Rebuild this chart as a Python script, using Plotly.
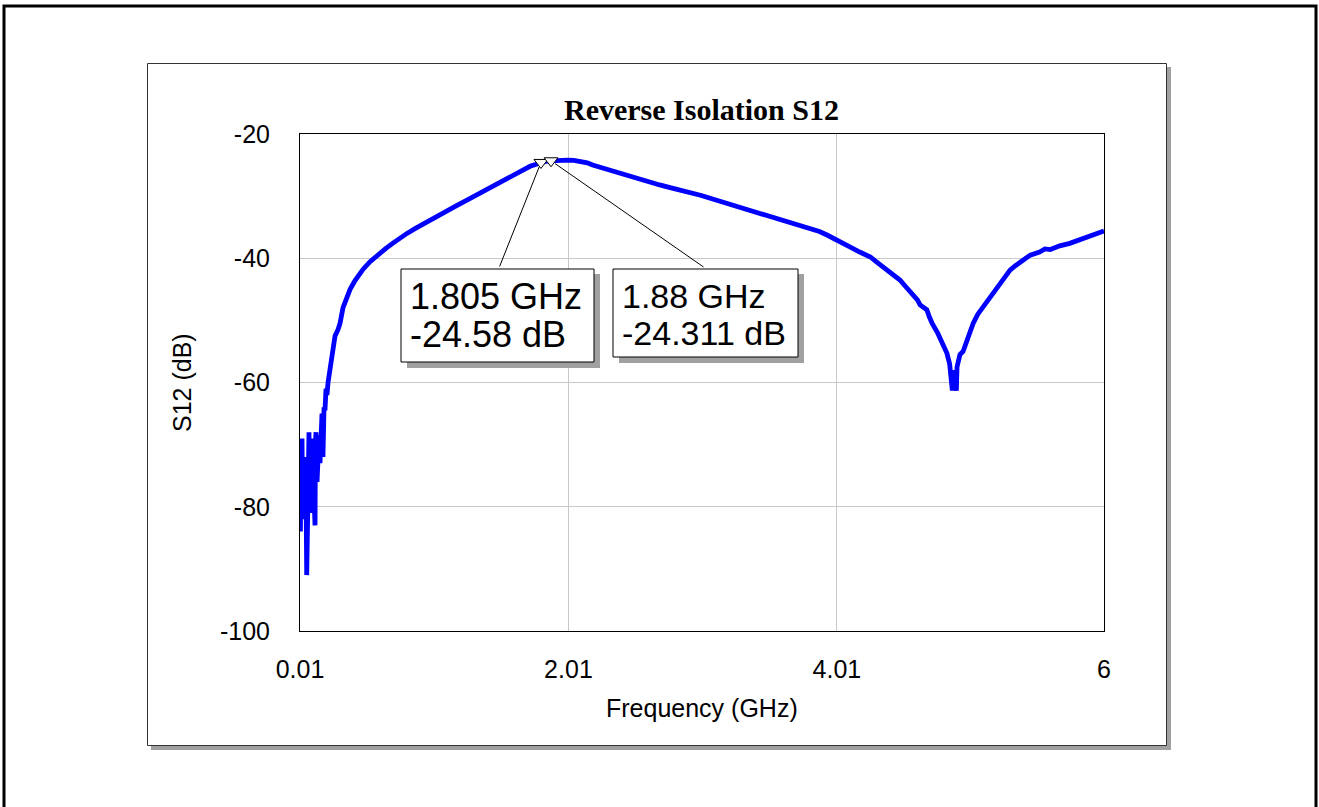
import plotly.graph_objects as go

# ---------------- data ----------------
freq_ghz = [
    0.010, 0.013, 0.017, 0.021, 0.025, 0.029, 0.032, 0.036, 0.040, 0.047,
    0.051, 0.055, 0.060, 0.066, 0.070, 0.077, 0.081, 0.085, 0.092, 0.100,
    0.107, 0.114, 0.122, 0.125, 0.129, 0.137, 0.144, 0.152, 0.159, 0.166,
    0.174, 0.181, 0.189, 0.196, 0.204, 0.211, 0.219, 0.226, 0.234, 0.241,
    0.256, 0.271, 0.293, 0.308, 0.330, 0.353, 0.383, 0.420, 0.450, 0.479,
    0.530, 0.560, 0.606, 0.650, 0.700, 0.750, 0.807, 0.870, 0.926, 1.000,
    1.053, 1.120, 1.180, 1.240, 1.300, 1.360, 1.425, 1.490, 1.550, 1.600,
    1.650, 1.690, 1.724, 1.765, 1.805, 1.840, 1.880, 1.915, 1.947, 1.980,
    2.007, 2.050, 2.100, 2.150, 2.190, 2.250, 2.320, 2.380, 2.445, 2.500,
    2.565, 2.630, 2.690, 2.760, 2.820, 2.880, 2.940, 3.000, 3.060, 3.120,
    3.190, 3.250, 3.310, 3.370, 3.440, 3.500, 3.560, 3.620, 3.680, 3.750,
    3.810, 3.880, 3.940, 4.000, 4.060, 4.110, 4.180, 4.220, 4.260, 4.300,
    4.350, 4.410, 4.480, 4.520, 4.550, 4.580, 4.610, 4.630, 4.680, 4.700,
    4.720, 4.760, 4.790, 4.810, 4.830, 4.850, 4.860, 4.870, 4.875, 4.890,
    4.900, 4.905, 4.920, 4.927, 4.950, 4.980, 5.000, 5.025, 5.060, 5.100,
    5.150, 5.200, 5.250, 5.300, 5.340, 5.380, 5.450, 5.520, 5.560, 5.600,
    5.670, 5.745, 5.820, 5.900, 6.000,
]
s12_db = [
    -70.0, -84.0, -72.0, -79.0, -69.0, -80.0, -73.0, -76.0, -72.0, -82.0,
    -75.0, -78.0, -91.0, -74.0, -77.0, -68.0, -78.0, -70.0, -81.0, -69.0,
    -74.0, -82.0, -83.0, -70.0, -68.0, -76.0, -72.0, -68.5, -73.0, -69.0,
    -65.0, -72.0, -64.0, -64.5, -61.0, -62.0, -60.0, -59.0, -57.0, -56.0,
    -54.3, -52.5, -51.5, -50.5, -48.0, -46.5, -45.0, -43.6, -42.6, -41.8,
    -40.6, -40.0, -39.2, -38.4, -37.6, -36.8, -36.0, -35.2, -34.5, -33.6,
    -33.0, -32.2, -31.5, -30.8, -30.1, -29.4, -28.6, -27.8, -27.1, -26.5,
    -26.0, -25.6, -25.2, -24.9, -24.58, -24.42, -24.31, -24.24, -24.2, -24.18,
    -24.2, -24.25, -24.4, -24.65, -25.0, -25.4, -25.8, -26.2, -26.6, -27.0,
    -27.4, -27.8, -28.2, -28.6, -28.9, -29.2, -29.5, -29.9, -30.3, -30.7,
    -31.1, -31.5, -31.9, -32.3, -32.7, -33.1, -33.5, -33.9, -34.3, -34.7,
    -35.2, -35.7, -36.3, -36.9, -37.5, -38.2, -39.0, -39.3, -39.8, -40.5,
    -41.4, -42.3, -43.5, -44.5, -45.3, -45.8, -46.7, -47.5, -48.3, -49.5,
    -50.5, -52.0, -53.5, -54.2, -55.3, -57.0, -60.5, -61.3, -58.0, -60.5,
    -61.3, -57.5, -56.5, -55.5, -55.0, -53.2, -51.5, -50.5, -49.0, -47.8,
    -46.2, -44.6, -43.2, -41.9, -41.2, -40.6, -39.5, -39.0, -38.5, -38.6,
    -38.0, -37.6, -37.0, -36.4, -35.6,
]
marker_freq = [1.805, 1.88]
marker_db = [-24.58, -24.311]
marker_labels = [["1.805 GHz", "-24.58 dB"], ["1.88 GHz", "-24.311 dB"]]

x_tickvals = [0.01, 2.01, 4.01, 6]
x_ticktext = ["0.01", "2.01", "4.01", "6"]
y_tickvals = [-100, -80, -60, -40, -20]
y_ticktext = ["-100", "-80", "-60", "-40", "-20"]

title_text = "Reverse Isolation S12"
x_title = "Frequency (GHz)"
y_title = "S12 (dB)"

# ---------------- layout helpers (pixel -> paper) ----------------
W, H = 1319, 807
PL, PR, PT, PB = 300, 1104, 134, 631   # plot area in screen pixels


def px(x):
    return (x - PL) / (PR - PL)


def py(y):
    return (PB - y) / (PB - PT)


SANS = "Arial, Liberation Sans, sans-serif"

fig = go.Figure()
fig.add_trace(go.Scatter(
    x=freq_ghz, y=s12_db, mode="lines",
    line=dict(color="#0000FF", width=4.8),
    hoverinfo="skip", showlegend=False,
))
fig.add_trace(go.Scatter(
    x=marker_freq, y=marker_db, mode="markers",
    marker=dict(symbol="triangle-down", size=12, color="white",
                line=dict(color="black", width=1)),
    showlegend=False,
))

shapes = []
# outer page frame
shapes.append(dict(type="rect", xref="paper", yref="paper",
                   x0=px(4), x1=px(1316), y0=py(830), y1=py(6),
                   line=dict(color="black", width=3), layer="below"))
# inner chart box with shadow
shapes.append(dict(type="rect", xref="paper", yref="paper",
                   x0=px(151), x1=px(1171), y0=py(750), y1=py(67),
                   fillcolor="#a0a0a0", line=dict(width=0), layer="below"))
shapes.append(dict(type="rect", xref="paper", yref="paper",
                   x0=px(147.5), x1=px(1166.5), y0=py(745.5), y1=py(63.5),
                   fillcolor="white", line=dict(color="#333333", width=1),
                   layer="below"))

# marker label boxes (pixel rectangles) with shadows
boxes = [(401, 269, 594, 362), (613, 269, 798, 357)]
for (bx0, by0, bx1, by1) in boxes:
    shapes.append(dict(type="rect", xref="paper", yref="paper",
                       x0=px(bx0 + 6), x1=px(bx1 + 6), y0=py(by1 + 6), y1=py(by0 + 5),
                       fillcolor="#a0a0a0", line=dict(width=0), layer="above"))
    shapes.append(dict(type="rect", xref="paper", yref="paper",
                       x0=px(bx0), x1=px(bx1), y0=py(by1), y1=py(by0),
                       fillcolor="white", line=dict(color="black", width=1),
                       layer="above"))

annotations = []
# title
annotations.append(dict(text="<b>" + title_text + "</b>", xref="paper", yref="paper",
                        x=px(701), y=py(110), xanchor="center", yanchor="middle",
                        showarrow=False,
                        font=dict(family="Liberation Serif, Times New Roman, serif",
                                  size=30, color="black")))
# axis titles
annotations.append(dict(text=x_title, xref="paper", yref="paper",
                        x=px(702), y=py(708), xanchor="center", yanchor="middle",
                        showarrow=False, font=dict(family=SANS, size=25, color="black")))
annotations.append(dict(text=y_title, xref="paper", yref="paper",
                        x=px(182), y=py(383), xanchor="center", yanchor="middle",
                        textangle=-90, showarrow=False,
                        font=dict(family=SANS, size=25, color="black")))

# leader lines from markers to label boxes
tails = [(499, 268), (705, 268)]
for f, v, (tx, ty) in zip(marker_freq, marker_db, tails):
    annotations.append(dict(x=f, y=v, xref="x", yref="y", text="",
                            showarrow=True, arrowhead=0, arrowwidth=1,
                            arrowcolor="black", axref="pixel", ayref="pixel",
                            ax=tx - (PL + (f - 0.01) / 5.99 * (PR - PL)),
                            ay=ty - (PT + (-20 - v) / 80 * (PB - PT)),
                            standoff=5))

# label texts
label_fmt = [(409, [296, 334], 36), (621, [296, 333], 34)]
for lines, (lx, lys, fs) in zip(marker_labels, label_fmt):
    for t, ly in zip(lines, lys):
        annotations.append(dict(text=t, xref="paper", yref="paper",
                                x=px(lx), y=py(ly), xanchor="left", yanchor="middle",
                                showarrow=False, borderpad=0,
                                font=dict(family=SANS, size=fs, color="black")))

axis_common = dict(showline=True, linecolor="black", linewidth=1, mirror=True,
                   showgrid=True, gridcolor="#c8c8c8", gridwidth=1,
                   zeroline=False, ticks="",
                   tickfont=dict(family=SANS, size=25, color="black"))

fig.update_layout(
    width=W, height=H, autosize=False,
    margin=dict(l=PL, r=W - PR, t=PT, b=H - PB, pad=0),
    paper_bgcolor="white", plot_bgcolor="white",
    showlegend=False,
    xaxis=dict(range=[0.01, 6], tickvals=x_tickvals, ticktext=x_ticktext,
               ticklabelstandoff=16, **axis_common),
    yaxis=dict(range=[-100, -20], tickvals=y_tickvals, ticktext=y_ticktext,
               ticklabelstandoff=24, **axis_common),
    shapes=shapes,
    annotations=annotations,
)

fig.write_html(
    "out.html",
    config={"displayModeBar": False},
    post_script="document.body.style.margin='0px';document.body.style.overflow='hidden';",
)
